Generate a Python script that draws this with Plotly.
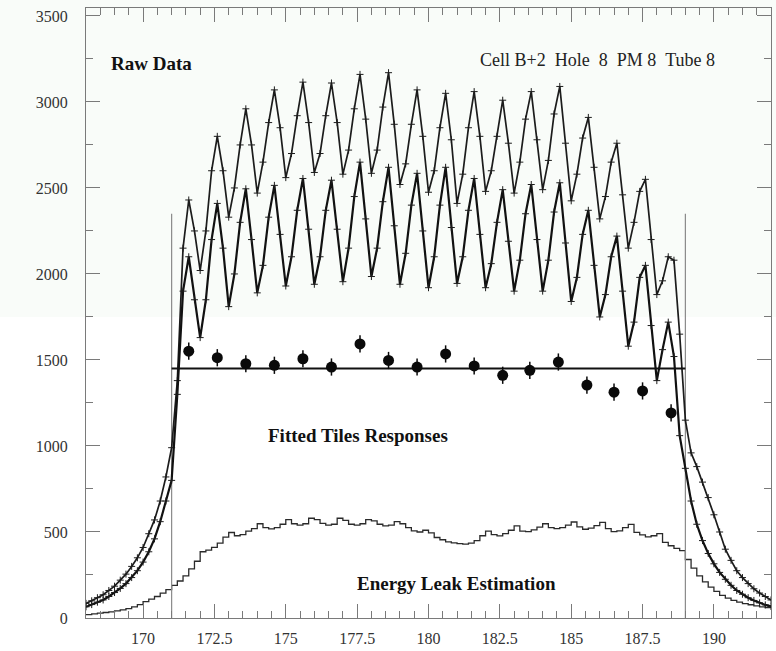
import numpy as np
import plotly.graph_objects as go

# ---------------- data ----------------
bin_start = 168.0
bin_width = 0.2

# Raw data, upper curve (values at 168.0, 168.2, ..., 192.0)
raw_upper = [
    85, 100, 118, 135, 160, 185, 220, 255, 300, 350,
    410, 490, 570, 680, 820, 990, 1380, 2150, 2430, 2250,
    2020, 2250, 2600, 2800, 2600, 2330, 2500, 2750, 2960, 2750,
    2470, 2650, 2880, 3070, 2850, 2560, 2700, 2920, 3115, 2880,
    2590, 2700, 2920, 3110, 2880, 2580, 2720, 2960, 3160, 2900,
    2585, 2720, 2970, 3170, 2870, 2520, 2640, 2870, 3070, 2800,
    2475, 2600, 2850, 3050, 2780, 2410, 2580, 2850, 3060, 2800,
    2480, 2600, 2800, 3010, 2760, 2470, 2650, 2900, 3060, 2780,
    2490, 2660, 2930, 3090, 2760, 2425, 2580, 2790, 2910, 2620,
    2320, 2450, 2650, 2760, 2460, 2150, 2300, 2480, 2550, 2200,
    1880, 1960, 2100, 2080, 1650, 1150, 960, 880, 790, 700,
    600, 500, 400, 335, 275, 235, 200, 170, 145, 125,
    105,
]

# Raw data, lower curve (values at 168.0, 168.2, ..., 192.0)
raw_lower = [
    65, 78, 92, 105, 125, 148, 172, 200, 235, 275,
    325, 385, 460, 560, 680, 800, 1300, 1900, 2100, 1850,
    1630, 1850, 2200, 2410, 2150, 1810, 2000, 2300, 2495, 2200,
    1890, 2050, 2330, 2515, 2230, 1930, 2100, 2370, 2555, 2260,
    1940, 2100, 2370, 2545, 2260, 1955, 2150, 2450, 2650, 2320,
    1985, 2150, 2420, 2620, 2280, 1940, 2120, 2400, 2585, 2250,
    1920, 2100, 2400, 2620, 2270, 1945, 2100, 2370, 2555, 2230,
    1920, 2060, 2300, 2490, 2190, 1900, 2080, 2350, 2520, 2200,
    1900, 2080, 2360, 2530, 2180, 1840, 1980, 2230, 2370, 2050,
    1750, 1880, 2100, 2220, 1900, 1580, 1720, 1980, 2050, 1700,
    1380, 1560, 1720, 1520, 1060, 870, 680, 545, 450, 375,
    315, 265, 225, 190, 160, 138, 118, 102, 88, 76,
    67,
]

# Energy leak estimation histogram (bins starting at 168.0, width 0.2)
leak = [
    20, 24, 28, 32, 36, 41, 47, 55, 65, 78,
    95, 110, 125, 145, 165, 190, 215, 245, 285, 330,
    385, 395, 410, 435, 470, 497, 478, 485, 505, 520,
    548, 525, 518, 525, 545, 572, 548, 540, 548, 580,
    572, 550, 540, 545, 580, 568, 545, 540, 548, 572,
    565, 545, 535, 540, 560, 548, 525, 506, 500, 510,
    495, 468, 455, 442, 437, 432, 430, 435, 450, 478,
    505, 485, 477, 490, 510, 535, 505, 502, 512, 528,
    548, 525, 520, 525, 540, 558, 530, 516, 522, 537,
    556, 520, 502, 506, 525, 544, 498, 483, 472, 478,
    490, 440, 420, 405, 392, 340, 290, 245, 210, 180,
    155, 132, 115, 102, 92, 84, 77, 71, 65, 60,
]

# Fitted tile responses
tile_pos = [171.6, 172.6, 173.6, 174.6, 175.6, 176.6, 177.6, 178.6, 179.6,
            180.6, 181.6, 182.6, 183.55, 184.55, 185.55, 186.5, 187.5, 188.5]
tile_resp = [1551, 1513, 1478, 1469, 1507, 1459, 1593, 1497, 1459,
             1535, 1465, 1411, 1440, 1488, 1354, 1313, 1320, 1192]
tile_err = [50, 50, 50, 50, 50, 50, 50, 50, 50,
            50, 50, 50, 50, 50, 50, 50, 50, 50]

fit_level = 1450
fit_range = [171.0, 189.0]
window_edges = [171.0, 189.0]
window_top = 2350

x_ticks = [170, 172.5, 175, 177.5, 180, 182.5, 185, 187.5, 190]
y_ticks = [0, 500, 1000, 1500, 2000, 2500, 3000, 3500]

# ---------------- figure ----------------
xg = bin_start + bin_width * np.arange(len(raw_upper))
edges = bin_start + bin_width * np.arange(len(leak) + 1)
leak_y = leak + [leak[-1]]

INK = "#1c1c1c"
fig = go.Figure()

fig.add_trace(go.Scatter(
    x=edges, y=leak_y, mode="lines", line_shape="hv",
    line=dict(color="#2a2a2a", width=1.3), hoverinfo="skip"))

# window lines
wx, wy = [], []
for e in window_edges:
    wx += [e, e, None]
    wy += [0, window_top, None]
fig.add_trace(go.Scatter(x=wx, y=wy, mode="lines",
                         line=dict(color="#8a8a8a", width=1.2), hoverinfo="skip"))

fig.add_trace(go.Scatter(
    x=xg, y=raw_upper, mode="lines+markers",
    line=dict(color=INK, width=1.7),
    marker=dict(symbol="cross-thin", size=5, color=INK, line=dict(width=1, color=INK))))

fig.add_trace(go.Scatter(
    x=xg, y=raw_lower, mode="lines+markers",
    line=dict(color="#111111", width=2.2),
    marker=dict(symbol="cross-thin", size=5, color=INK, line=dict(width=1, color=INK))))

fig.add_trace(go.Scatter(x=fit_range, y=[fit_level, fit_level], mode="lines",
                         line=dict(color="#111111", width=2)))

fig.add_trace(go.Scatter(
    x=tile_pos, y=tile_resp, mode="markers",
    marker=dict(symbol="circle", size=11, color="#0a0a0a"),
    error_y=dict(type="data", array=tile_err, width=0, thickness=1.5, color="#0a0a0a")))

axis_common = dict(
    showline=True, linecolor="#7a7a7a", linewidth=1, mirror="ticks",
    ticks="inside", ticklen=14, tickcolor="#7a7a7a", tickwidth=1,
    showgrid=False, zeroline=False,
    tickfont=dict(family="Liberation Serif", size=16, color="#333333"),
)

fig.update_xaxes(range=[168, 192], tickmode="array", tickvals=x_ticks,
                 ticktext=[f"{v:g}" for v in x_ticks], ticklabelstandoff=6,
                 minor=dict(dtick=0.5, tick0=170, ticks="inside", ticklen=7,
                            tickcolor="#7a7a7a"),
                 **axis_common)
fig.update_yaxes(range=[0, 3546], tickmode="array", tickvals=y_ticks,
                 ticktext=[str(v) for v in y_ticks], ticklabelstandoff=14,
                 minor=dict(dtick=250, tick0=0, ticks="inside", ticklen=7,
                            tickcolor="#7a7a7a"),
                 **axis_common)

bold = dict(family="Liberation Serif", size=19, color="#111111")
fig.update_layout(
    width=776, height=651,
    margin=dict(l=86, r=4, t=8, b=23),
    paper_bgcolor="white", plot_bgcolor="rgba(0,0,0,0)",
    showlegend=False,
    shapes=[dict(type="rect", xref="paper", yref="paper",
                 x0=-0.2, x1=1.1, y0=0.4935, y1=1.1,
                 fillcolor="#f9fcf9", line=dict(width=0), layer="below")],
    annotations=[
        dict(x=170.29, y=3225, text="<b>Raw Data</b>", showarrow=False,
             font=bold, xanchor="center", yanchor="middle"),
        dict(x=185.91, y=3242,
             text="Cell B+2\u00a0\u00a0Hole\u00a0\u00a08\u00a0\u00a0PM 8\u00a0\u00a0Tube 8",
             showarrow=False, font=dict(family="Liberation Serif", size=18, color="#222222"),
             xanchor="center", yanchor="middle"),
        dict(x=177.53, y=1063, text="<b>Fitted Tiles Responses</b>", showarrow=False,
             font=bold, xanchor="center", yanchor="middle"),
        dict(x=180.98, y=200, text="<b>Energy Leak Estimation</b>", showarrow=False,
             font=bold, xanchor="center", yanchor="middle"),
    ],
)

fig.write_html("out.html")
